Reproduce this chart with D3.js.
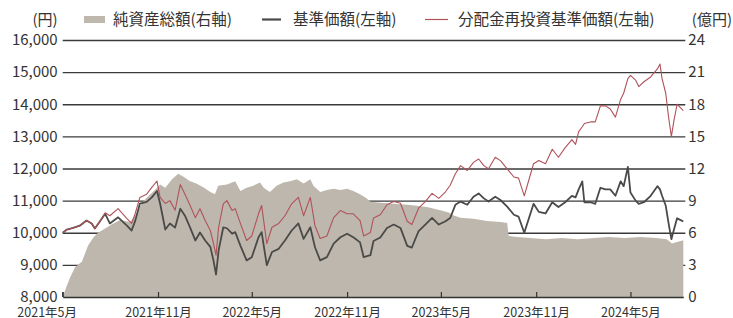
<!DOCTYPE html>
<html>
<head>
<meta charset="utf-8">
<script src="https://cdn.jsdelivr.net/npm/d3@7"></script>
<style>
  body { margin: 0; background: #fff; }
  text { font-family: "Noto Sans CJK JP", "Noto Sans", sans-serif; fill: #333; }
</style>
</head>
<body>
<svg id="chart"></svg>
<script>
// ---------------- data ----------------
const lineDates = [
  "2021-05-01","2021-05-09","2021-05-21","2021-06-03","2021-06-16","2021-06-26","2021-07-02","2021-07-09",
  "2021-07-22","2021-07-31","2021-08-16","2021-09-02","2021-09-11","2021-09-18","2021-09-27","2021-10-10",
  "2021-10-20","2021-10-30","2021-11-05","2021-11-15","2021-11-24","2021-12-04","2021-12-14","2021-12-23",
  "2022-01-02","2022-01-12","2022-01-21","2022-01-31","2022-02-10","2022-02-16","2022-02-21","2022-02-26",
  "2022-03-07","2022-03-14","2022-03-24","2022-03-30","2022-04-09","2022-04-21","2022-05-01","2022-05-14",
  "2022-05-20","2022-05-30","2022-06-09","2022-06-22","2022-07-04","2022-07-17","2022-07-30","2022-08-09",
  "2022-08-22","2022-08-31","2022-09-10","2022-09-23","2022-10-06","2022-10-19","2022-11-01","2022-11-13",
  "2022-11-26","2022-12-03","2022-12-16","2022-12-22","2023-01-04","2023-01-17","2023-01-30","2023-02-12",
  "2023-02-25","2023-03-06","2023-03-19","2023-04-01","2023-04-14","2023-04-27","2023-05-10","2023-05-19",
  "2023-05-29","2023-06-08","2023-06-21","2023-07-03","2023-07-13","2023-07-23","2023-08-01","2023-08-14",
  "2023-08-24","2023-09-06","2023-09-19","2023-09-28","2023-10-09","2023-10-18","2023-10-27","2023-11-06",
  "2023-11-19","2023-12-02","2023-12-14","2023-12-27","2024-01-09","2024-01-16","2024-01-22","2024-01-29",
  "2024-02-02","2024-02-14","2024-02-23","2024-03-04","2024-03-14","2024-03-23","2024-04-02","2024-04-12",
  "2024-04-18","2024-04-26","2024-05-01","2024-05-11","2024-05-17","2024-05-27","2024-06-09","2024-06-22",
  "2024-06-27","2024-07-01","2024-07-08","2024-07-14","2024-07-19","2024-07-24","2024-07-30","2024-08-05",
  "2024-08-11"
];

// 基準価額(左軸)
const baseValues = [
  10000,10100,10150,10220,10380,10290,10130,10290,
  10590,10290,10480,10220,10070,10370,10910,10960,
  11100,11300,10910,10100,10290,10160,10750,10530,
  10160,9760,10010,9760,9560,9140,8700,9450,
  10170,10140,9970,10020,9600,9140,9240,9860,
  10020,8990,9400,9500,9760,10070,10290,9810,
  10170,9550,9140,9240,9660,9860,9970,9860,
  9700,9240,9300,9745,9850,10150,10255,10150,
  9590,9540,10050,10255,10460,10255,10360,10460,
  10870,10970,10870,11120,11225,11070,10970,11120,
  11020,10815,10560,10500,10000,10450,10900,10650,
  10600,10950,10800,10950,11150,11100,11350,11600,
  10950,10950,10900,11400,11350,11350,11150,11600,
  11450,12050,11250,11000,10900,10950,11150,11450,
  11350,11150,10850,10250,9800,10100,10450,10400,
  10350
];

// 分配金再投資基準価額(左軸)
const reinvestValues = [
  10000,10100,10150,10220,10380,10290,10130,10290,
  10620,10530,10750,10440,10290,10600,11100,11200,
  11410,11610,11100,10910,11000,10700,11500,11200,
  10850,10470,10750,10380,10070,9670,9300,10170,
  10900,11000,10690,10750,10290,9760,9900,10590,
  10850,9660,10170,10290,10530,10900,11100,10530,
  11100,10220,9820,9900,10470,10690,10590,10590,
  10380,9900,10010,10460,10560,10870,10970,10920,
  10360,10255,10765,10970,11225,11070,11275,11480,
  11835,12090,11940,12190,12295,12090,11990,12350,
  12245,11990,11735,11700,11150,11650,12150,12250,
  12150,12600,12350,12650,12900,12750,13150,13300,
  13400,13450,13450,13950,13950,13850,13600,14150,
  14350,14800,14900,14750,14550,14700,14850,15100,
  15250,14800,14350,13550,13000,13500,14000,13900,
  13800
];

// 純資産総額(右軸, 億円)
const navDates = [
  "2021-05-01","2021-05-07","2021-05-15","2021-05-25","2021-06-07","2021-06-19","2021-06-30","2021-07-08",
  "2021-07-22","2021-08-04","2021-08-20","2021-09-08","2021-09-18","2021-10-01","2021-10-13","2021-10-26",
  "2021-11-05","2021-11-15","2021-11-28","2021-12-10","2021-12-21","2022-01-02","2022-01-14","2022-01-29",
  "2022-02-10","2022-02-19","2022-02-25","2022-03-14","2022-03-30","2022-04-09","2022-04-21","2022-05-04",
  "2022-05-17","2022-05-24","2022-06-05","2022-06-18","2022-07-01","2022-07-14","2022-07-27","2022-08-09",
  "2022-08-22","2022-08-28","2022-09-10","2022-09-23","2022-10-06","2022-10-19","2022-11-01","2022-11-13",
  "2022-11-26","2022-12-09","2022-12-16","2023-01-04","2023-01-30","2023-03-03","2023-04-04","2023-04-30",
  "2023-05-16","2023-05-26","2023-06-08","2023-07-03","2023-07-29","2023-08-24","2023-09-06","2023-09-09",
  "2023-09-25","2023-10-21","2023-11-20","2023-12-20","2024-01-20","2024-02-20","2024-03-20","2024-04-20",
  "2024-05-20","2024-06-20","2024-07-10","2024-07-20","2024-08-11"
];
const navValues = [
  0,0.8,1.8,2.8,3.3,4.8,5.6,6.0,
  6.4,6.8,7.2,7.0,7.6,8.8,9.4,10.0,
  10.5,10.2,11.0,11.5,11.2,10.8,10.6,10.2,
  9.8,9.6,10.4,10.5,10.8,9.9,10.2,10.4,
  10.7,10.2,9.8,10.4,10.7,10.8,11.0,10.6,
  11.0,10.4,9.8,10.0,10.1,10.0,10.1,9.9,
  9.6,9.2,8.9,8.8,8.7,8.6,8.4,8.1,
  7.9,7.6,7.4,7.3,7.1,7.0,6.9,5.7,
  5.6,5.5,5.4,5.5,5.4,5.5,5.6,5.5,
  5.6,5.5,5.4,5.0,5.3
];

const xTickDates = ["2021-05-01","2021-11-01","2022-05-01","2022-11-01","2023-05-01","2023-11-01","2024-05-01"];
const leftTicks = [8000, 9000, 10000, 11000, 12000, 13000, 14000, 15000, 16000];
const rightTicks = [0, 3, 6, 9, 12, 15, 18, 21, 24];

const legendItems = [
  {label: "純資産総額(右軸)", type: "area"},
  {label: "基準価額(左軸)", type: "base"},
  {label: "分配金再投資基準価額(左軸)", type: "reinvest"}
];

// ---------------- setup ----------------
const config = {
  width: 733, height: 318,
  left: 62.7, right: 683.3, top: 40, bottom: 297,
  areaColor: "#beb7ad", baseColor: "#4a4a48", reinvestColor: "#b0525a", gridColor: "#3a3a3a"
};

const parse = d3.timeParse("%Y-%m-%d");

const svg = d3.select("#chart")
  .attr("width", config.width)
  .attr("height", config.height);

//----------------------------SCALES----------------------------//
const x = d3.scaleTime()
  .domain([parse("2021-05-01"), parse("2024-08-11")])
  .range([config.left, config.right]);

const yL = d3.scaleLinear().domain([8000, 16000]).range([config.bottom, config.top]);
const yR = d3.scaleLinear().domain([0, 24]).range([config.bottom, config.top]);

const lineData = lineDates.map((d, i) => ({date: parse(d), base: baseValues[i], reinvest: reinvestValues[i]}));
const navData = navDates.map((d, i) => ({date: parse(d), value: navValues[i]}));

//----------------------------GRID------------------------------//
svg.append("g")
  .attr("class", "grid")
  .attr("transform", `translate(${config.left},0)`)
  .call(d3.axisLeft(yL).tickValues(leftTicks.slice(1)).tickSize(-(config.right - config.left + 2)).tickFormat(""))
  .call(g => g.select(".domain").remove())
  .call(g => g.selectAll("line").attr("stroke", config.gridColor).attr("stroke-width", 1.3));

//----------------------------AREA------------------------------//
const area = d3.area()
  .x(d => x(d.date))
  .y0(yR(0))
  .y1(d => yR(d.value));

svg.append("path")
  .datum(navData)
  .attr("fill", config.areaColor)
  .attr("d", area);

//----------------------------LINES-----------------------------//
const baseLine = d3.line().x(d => x(d.date)).y(d => yL(d.base));
const reinvestLine = d3.line().x(d => x(d.date)).y(d => yL(d.reinvest));

svg.append("path")
  .datum(lineData)
  .attr("fill", "none")
  .attr("stroke", config.baseColor)
  .attr("stroke-width", 1.8)
  .attr("stroke-linejoin", "round")
  .attr("d", baseLine);

svg.append("path")
  .datum(lineData)
  .attr("fill", "none")
  .attr("stroke", config.reinvestColor)
  .attr("stroke-width", 1.1)
  .attr("stroke-linejoin", "round")
  .attr("d", reinvestLine);

//-----------------------------AXES-----------------------------//
const xAxis = svg.append("g")
  .attr("transform", `translate(0,${config.bottom})`)
  .call(d3.axisBottom(x)
    .tickValues(xTickDates.map(parse))
    .tickSize(-5)
    .tickSizeOuter(0)
    .tickPadding(20)
    .tickFormat(d3.timeFormat("%Y年%-m月")));
xAxis.select(".domain").attr("stroke", "#333").attr("stroke-width", 1.3);
xAxis.selectAll(".tick line").attr("stroke", "#333").attr("stroke-width", 1.2);
xAxis.selectAll(".tick text")
  .attr("dy", 0)
  .style("font-size", "12.5px")
  .attr("fill", "#333");
// first label sits left of its tick in the original
xAxis.select(".tick text").attr("dx", -16);

const leftAxis = svg.append("g")
  .attr("transform", `translate(${config.left},0)`)
  .call(d3.axisLeft(yL).tickValues(leftTicks).tickSize(0).tickPadding(5).tickFormat(d3.format(",")));
leftAxis.select(".domain").remove();
leftAxis.selectAll("text").style("font-size", "15px").attr("fill", "#333");
// small vertical stub at the bottom-left corner
svg.append("line")
  .attr("x1", config.left).attr("x2", config.left)
  .attr("y1", config.bottom).attr("y2", config.bottom - 5)
  .attr("stroke", "#333").attr("stroke-width", 1.2);

const rightAxis = svg.append("g")
  .attr("transform", `translate(${config.right},0)`)
  .call(d3.axisRight(yR).tickValues(rightTicks).tickSize(0).tickPadding(5));
rightAxis.select(".domain").remove();
rightAxis.selectAll("text").style("font-size", "15px").attr("fill", "#333");

//----------------------------LEGEND----------------------------//
const legY = 19.5;
svg.append("text").attr("x", 45).attr("y", legY).attr("dy", "0.36em")
  .attr("text-anchor", "middle").style("font-size", "15px").text("(円)");
svg.append("text").attr("x", 732).attr("y", legY).attr("dy", "0.36em")
  .attr("text-anchor", "end").style("font-size", "15px").text("(億円)");

const legendPos = [
  {sx: 84, ex: 105, tx: 113},
  {sx: 262, ex: 281, tx: 293},
  {sx: 425, ex: 448, tx: 458}
];

legendItems.forEach((item, i) => {
  const p = legendPos[i];
  if (item.type === "area") {
    svg.append("rect").attr("x", p.sx).attr("y", legY - 3.5)
      .attr("width", p.ex - p.sx).attr("height", 7).attr("fill", config.areaColor);
  } else {
    svg.append("line").attr("x1", p.sx).attr("x2", p.ex).attr("y1", legY).attr("y2", legY)
      .attr("stroke", item.type === "base" ? config.baseColor : config.reinvestColor)
      .attr("stroke-width", item.type === "base" ? 2.2 : 1.2);
  }
  svg.append("text").attr("x", p.tx).attr("y", legY).attr("dy", "0.36em")
    .style("font-size", "15.5px").text(item.label);
});
</script>
</body>
</html>
